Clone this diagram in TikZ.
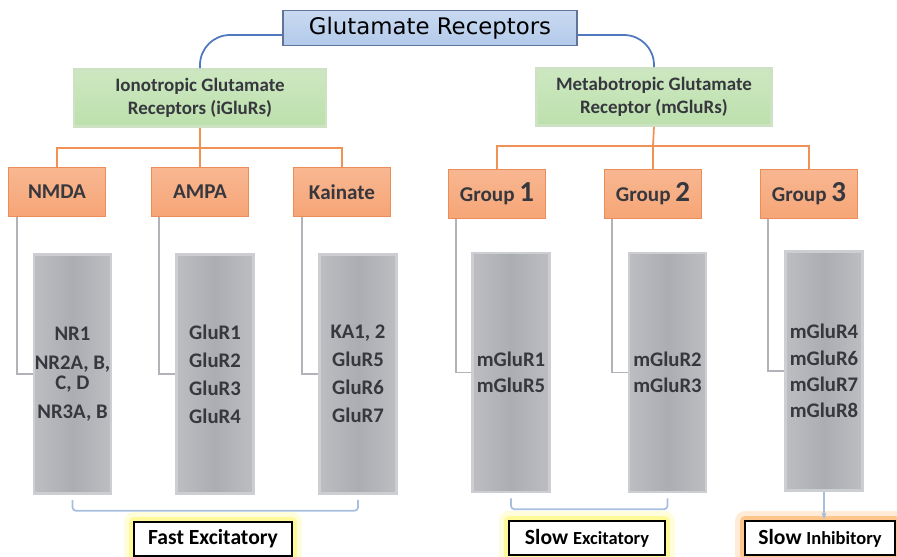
\documentclass[tikz,border=0pt]{standalone}
\usepackage{fontspec}
\setmainfont{Carlito}
\newfontfamily\titlefont{DejaVu Sans}
\usetikzlibrary{positioning,arrows.meta}

\definecolor{txtgrey}{RGB}{55,55,62}
\definecolor{headblue}{RGB}{178,202,234}
\definecolor{headedge}{RGB}{95,115,155}
\definecolor{famgreen}{RGB}{188,224,172}
\definecolor{famedge}{RGB}{205,225,195}
\definecolor{grporange}{RGB}{246,165,118}
\definecolor{grpedge}{RGB}{236,140,88}
\definecolor{barfill}{RGB}{172,173,178}
\definecolor{baredge}{RGB}{205,206,210}
\definecolor{linkblue}{RGB}{80,120,190}
\definecolor{linkorange}{RGB}{240,145,85}
\definecolor{linkgrey}{RGB}{178,178,184}
\definecolor{bracketblue}{RGB}{168,190,222}

\tikzset{
  box/.style={rectangle, inner sep=0pt, align=center, text=txtgrey},
  head/.style={box, draw=headedge, thick, top color=headblue!70, bottom color=headblue,
    minimum width=5.88cm, minimum height=0.7cm, text=black, font=\titlefont\fontsize{13}{14}\selectfont},
  family/.style={box, draw=famedge, line width=1.5pt, top color=famgreen!75, bottom color=famgreen,
    minimum width=5.04cm, minimum height=1.14cm, font=\bfseries\fontsize{10.8}{13}\selectfont},
  group/.style={box, draw=grpedge, line width=1pt, top color=grporange!80, bottom color=grporange,
    minimum width=1.94cm, minimum height=0.98cm, font=\bfseries\fontsize{12}{13}\selectfont},
  bar/.style={box, draw=baredge, line width=1.5pt, left color=barfill!80, right color=barfill!80, middle color=barfill,
    minimum width=1.54cm, minimum height=4.78cm, font=\bfseries\fontsize{11.8}{11.5}\selectfont},
  effect/.style={box, draw=black, line width=1.6pt, fill=white, minimum height=0.68cm, text=black,
    font=\bfseries\fontsize{12.3}{13}\selectfont},
  yglow/.style={preaction={draw=yellow!14, line width=11pt, line join=round},
    preaction={draw=yellow!40, line width=5.5pt, line join=round}},
  oglow/.style={preaction={draw=orange!16, line width=11pt, line join=round},
    preaction={draw=orange!45, line width=5.5pt, line join=round}},
  blueline/.style={draw=linkblue, line width=1pt, rounded corners=0.6cm},
  orangeline/.style={draw=linkorange, line width=1pt},
  greyline/.style={draw=linkgrey, line width=1pt},
  bracket/.style={draw=bracketblue, line width=1pt, rounded corners=2pt}
}

\begin{document}
\begin{tikzpicture}[x=0.02cm, y=-0.02cm]
\useasboundingbox (0,0) rectangle (897,556);

% top of the tree
\node[head] (title) at (430,28) {Glutamate Receptors};
\node[family] (iono) at (200,98) {Ionotropic Glutamate\\Receptors (iGluRs)};
\node[family, minimum width=4.7cm] (meta) at (654,97) {Metabotropic Glutamate\\Receptor (mGluRs)};

\draw[blueline] ([yshift=-0.14cm]title.west) -| (iono.north);
\draw[blueline] ([yshift=-0.14cm]title.east) -| (meta.north);

% receptor families
\node[group] (nmda) at (57,192) {NMDA};
\node[group] (ampa) at (200,192) {AMPA};
\node[group] (kain) at (342,192) {Kainate};
\node[group] (grpone) at (497,194) {Group {\fontsize{16.5}{16}\selectfont 1}};
\node[group] (grptwo) at (653,194) {Group {\fontsize{16.5}{16}\selectfont 2}};
\node[group] (grpthree) at (809,194) {Group {\fontsize{16.5}{16}\selectfont 3}};

\coordinate (ibus) at (200,148);
\coordinate (mbus) at (653,146);
\draw[orangeline] (iono.south) -- (ibus);
\draw[orangeline] (nmda.north) |- (ibus) -| (kain.north);
\draw[orangeline] (ibus) -- (ampa.north);
\draw[orangeline] (meta.south) -- (mbus);
\draw[orangeline] (grpone.north) |- (mbus) -| (grpthree.north);
\draw[orangeline] (mbus) -- (grptwo.north);

% subunits
\node[bar] (nmdabar) at (72.5,374) {NR1\\[5pt]NR2A, B,\\C, D\\[5pt]NR3A, B};
\node[bar] (ampabar) at (215,374) {GluR1\\[4.5pt]GluR2\\[4.5pt]GluR3\\[4.5pt]GluR4};
\node[bar] (kainbar) at (358,374) {KA1, 2\\[4.5pt]GluR5\\[4.5pt]GluR6\\[4.5pt]GluR7};
\node[bar] (onebar) at (511,372.5) {mGluR1\\[3.5pt]mGluR5};
\node[bar] (twobar) at (667.5,372.5) {mGluR2\\[3.5pt]mGluR3};
\node[bar] (threebar) at (824,371) {mGluR4\\[3.5pt]mGluR6\\[3.5pt]mGluR7\\[3.5pt]mGluR8};

\draw[greyline] ([xshift=0.18cm]nmda.south west) |- (nmdabar.west);
\draw[greyline] ([xshift=0.16cm]ampa.south west) |- (ampabar.west);
\draw[greyline] ([xshift=0.18cm]kain.south west) |- (kainbar.west);
\draw[greyline] ([xshift=0.16cm]grpone.south west) |- (onebar.west);
\draw[greyline] ([xshift=0.16cm]grptwo.south west) |- (twobar.west);
\draw[greyline] ([xshift=0.16cm]grpthree.south west) |- (threebar.west);

% effects
\node[effect, yglow, minimum width=3.16cm] (fast) at (213,539) {Fast Excitatory};
\node[effect, yglow, minimum width=3.12cm] (slowex) at (587,538) {Slow {\fontsize{10.5}{13}\selectfont Excitatory}};
\node[effect, oglow, minimum width=3.0cm] (slowin) at (820,538) {Slow {\fontsize{10.5}{13}\selectfont Inhibitory}};

\draw[bracket] ([yshift=-0.1cm]nmdabar.south) |- ([yshift=-0.32cm]ampabar.south) -| ([yshift=-0.1cm]kainbar.south);
\draw[bracket] ([yshift=-0.1cm]onebar.south) |- ([yshift=-0.32cm]onebar.south -| twobar.south) -- ([yshift=-0.1cm]twobar.south);
\draw[bracket, -{Stealth[length=4pt]}] (threebar.south) -- (threebar.south |- slowin.north);

\end{tikzpicture}
\end{document}
